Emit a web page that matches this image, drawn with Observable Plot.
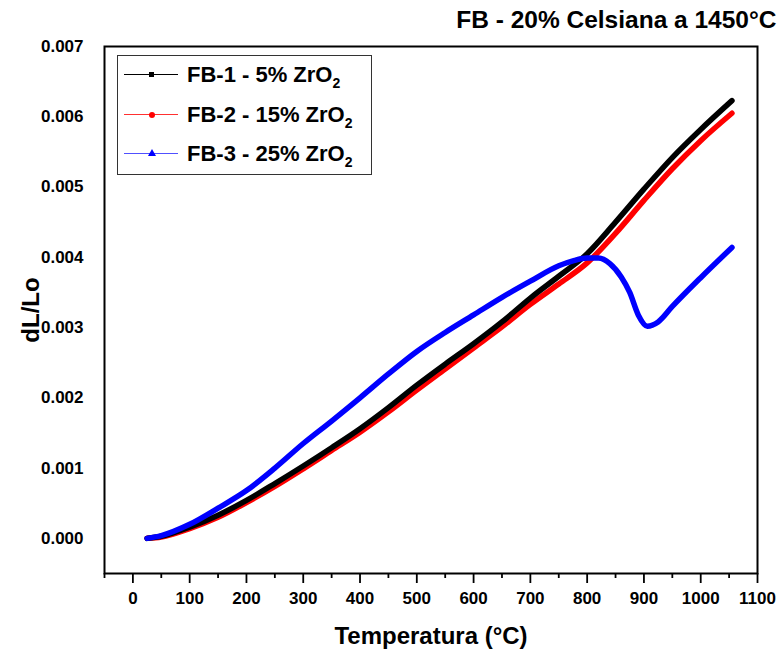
<!DOCTYPE html>
<html><head><meta charset="utf-8">
<script src="https://cdn.jsdelivr.net/npm/d3@7"></script>
<script src="https://cdn.jsdelivr.net/npm/@observablehq/plot@0.6"></script>
<style>
body{margin:0;background:#fff;}
#wrap{position:relative;width:782px;height:656px;font-family:"Liberation Sans",Arial,sans-serif;font-weight:bold;}
#legend{position:absolute;left:117px;top:55px;width:255px;height:120px;border:1.5px solid #333;box-sizing:border-box;background:#fff;}
.row{position:absolute;left:0;width:100%;height:30px;}
.sample{position:absolute;left:6px;width:54px;top:14px;height:0;border-top:1.5px solid;}
.mk{position:absolute;}
.lbl{position:absolute;left:69px;top:0;font-size:22px;line-height:30px;color:#000;white-space:nowrap;}
.lbl sub{font-size:14px;vertical-align:-6px;line-height:0;}
</style>
</head><body>
<div id="wrap"><div id="chart"></div><div id="legend"></div></div>
<script>
// ---- data ----
const title = "FB - 20% Celsiana a 1450°C";
const xLabel = "Temperatura (°C)";
const yLabel = "dL/Lo";
const xTicks = [0,100,200,300,400,500,600,700,800,900,1000,1100];
const xMinorTicks = [-50,50,150,250,350,450,550,650,750,850,950,1050];
const yTicks = [0,0.001,0.002,0.003,0.004,0.005,0.006,0.007];

const seriesNames = ["FB-1 - 5% ZrO", "FB-2 - 15% ZrO", "FB-3 - 25% ZrO"];
const seriesColors = ["#000000", "#ff0000", "#0000ff"];

const tempA = [25,50,100,150,200,250,300,350,400,450,500,550,600,650,700,750,800,850,900,950,1000,1055];
const fb1 = [0,0.00003,0.00016,0.00033,0.00054,0.00078,0.00103,0.00129,0.00156,0.00186,0.00218,0.00248,0.00277,0.00308,0.00342,0.00373,0.00405,0.00450,0.00497,0.00542,0.00582,0.00623];
const fb2 = [0,0.00002,0.00014,0.00030,0.00051,0.00074,0.00099,0.00125,0.00151,0.00180,0.00211,0.00241,0.00271,0.00301,0.00333,0.00362,0.00392,0.00434,0.00481,0.00526,0.00566,0.00605];
const tempB = [25,50,100,150,200,250,300,350,400,450,500,550,600,650,700,750,775,800,820,840,860,875,890,906,925,950,1000,1055];
const fb3 = [0,0.00004,0.00020,0.00043,0.00068,0.00100,0.00135,0.00167,0.00200,0.00234,0.00266,0.00293,0.00318,0.00343,0.00366,0.00388,0.00395,0.00399,0.00399,0.00391,0.00372,0.00350,0.00318,0.00302,0.00308,0.00330,0.00371,0.00414];

const rows = [];
tempA.forEach((t,i)=>rows.push({s:0,t,v:fb1[i]}));
tempA.forEach((t,i)=>rows.push({s:1,t,v:fb2[i]}));
tempB.forEach((t,i)=>rows.push({s:2,t,v:fb3[i]}));

const font = "'Liberation Sans', Arial, sans-serif";
const chart = Plot.plot({
  width: 782, height: 656,
  marginLeft: 104, marginRight: 25, marginTop: 46, marginBottom: 83,
  style: {fontFamily: font, fontWeight: "bold", color: "#000", background: "#fff", overflow: "visible"},
  x: {domain: [-50, 1100]},
  y: {domain: [-0.0005, 0.007]},
  marks: [
    Plot.axisX({ticks: xMinorTicks, tickSize: 5, tickFormat: () => "", label: null, strokeWidth: 1.8}),
    Plot.axisX({ticks: xTicks, tickSize: 10, tickPadding: 8, fontSize: 17, tickFormat: d => String(d), label: null, strokeWidth: 1.8}),
    Plot.axisY({ticks: yTicks, tickSize: 0, tickPadding: 21, fontSize: 17, tickFormat: d3.format(".3f"), label: null}),
    ...[1,0,2].map(k => Plot.line(rows.filter(r => r.s === k), {x: "t", y: "v", stroke: seriesColors[k], strokeWidth: 5.5, curve: "monotone-x", strokeLinecap: "round"})),
    Plot.frame({stroke: "#000", strokeWidth: 2}),
    Plot.text([xLabel], {frameAnchor: "bottom", dy: 63, textAnchor: "middle", lineAnchor: "middle", fontSize: 24, fontWeight: "bold"}),
    Plot.text([yLabel], {frameAnchor: "left", dx: -73, rotate: -90, textAnchor: "middle", lineAnchor: "middle", fontSize: 24, fontWeight: "bold"}),
    Plot.text([title], {frameAnchor: "top-right", dx: 19, dy: -26, textAnchor: "end", lineAnchor: "middle", fontSize: 24.5, fontWeight: "bold"})
  ]
});
document.getElementById("chart").appendChild(chart);

// legend
const legend = document.getElementById("legend");
const markerShapes = ["square","circle","triangle"];
const sampleColors = ["#000000", "#ff3030", "#5050ff"];
seriesNames.forEach((name, i) => {
  const row = document.createElement("div");
  row.className = "row";
  row.style.top = (4 + i * 39.5) + "px";
  const line = document.createElement("div");
  line.className = "sample";
  line.style.borderTopColor = sampleColors[i];
  row.appendChild(line);
  const mk = document.createElement("div");
  mk.className = "mk";
  const c = seriesColors[i];
  if (markerShapes[i] === "square") {
    Object.assign(mk.style, {left: "31px", top: "12px", width: "5px", height: "5px", background: c});
  } else if (markerShapes[i] === "circle") {
    Object.assign(mk.style, {left: "31px", top: "12px", width: "6px", height: "6px", background: c, borderRadius: "50%"});
  } else {
    Object.assign(mk.style, {left: "30px", top: "10px", width: "0", height: "0", borderLeft: "4px solid transparent", borderRight: "4px solid transparent", borderBottom: "7px solid " + c});
  }
  row.appendChild(mk);
  const lbl = document.createElement("div");
  lbl.className = "lbl";
  lbl.innerHTML = name + "<sub>2</sub>";
  row.appendChild(lbl);
  legend.appendChild(row);
});
</script>
</body></html>
